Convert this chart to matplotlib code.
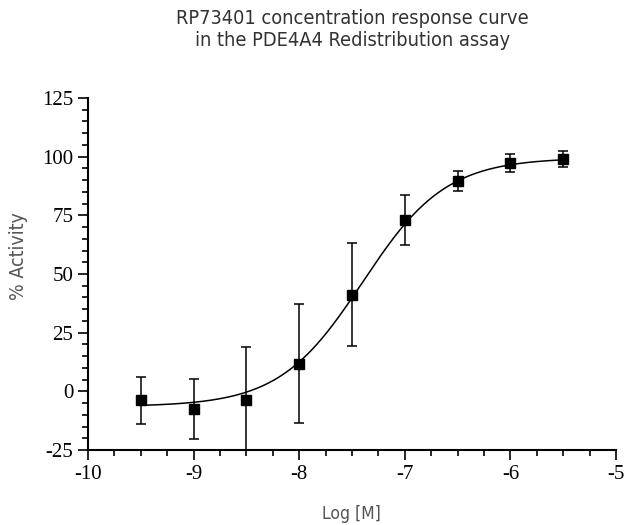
import numpy as np
import matplotlib
matplotlib.use("Agg")
import matplotlib.pyplot as plt
from matplotlib.ticker import MultipleLocator

plt.rcParams["axes.unicode_minus"] = False

# data
log_conc = [-9.5, -9.0, -8.5, -8.0, -7.5, -7.0, -6.5, -6.0, -5.5]
activity = [-3.8, -7.5, -3.8, 11.8, 41.1, 73.0, 89.5, 97.2, 99.0]
activity_err = [10.0, 12.8, 22.7, 25.3, 22.0, 10.7, 4.3, 3.8, 3.5]

# fitted 4-parameter logistic
fit_bottom = -6.5
fit_top = 99.5
fit_logec50 = -7.4
fit_hill = 1.1

sans = ["DejaVu Sans"]
serif = ["Liberation Serif", "DejaVu Serif"]

fig = plt.figure(figsize=(6.26, 5.25), dpi=100)
ax = fig.add_axes([0.1406, 0.1429, 0.8435, 0.6705])

xs = np.linspace(min(log_conc), max(log_conc), 300)
ys = fit_bottom + (fit_top - fit_bottom) / (1 + 10 ** ((fit_logec50 - xs) * fit_hill))
ax.plot(xs, ys, color="black", lw=1.1)

ax.errorbar(log_conc, activity, yerr=activity_err, fmt="s", color="black",
            ms=6.5, capsize=3.5, elinewidth=1.1, capthick=1.1)

ax.set_xlim(-10, -5)
ax.set_ylim(-25, 125)
ax.xaxis.set_major_locator(MultipleLocator(1))
ax.xaxis.set_minor_locator(MultipleLocator(0.25))
ax.yaxis.set_major_locator(MultipleLocator(25))
ax.yaxis.set_minor_locator(MultipleLocator(5))

for s in ["top", "right"]:
    ax.spines[s].set_visible(False)
for s in ["left", "bottom"]:
    ax.spines[s].set_linewidth(1.5)

ax.tick_params(which="major", length=7, width=1.2, direction="out")
ax.tick_params(which="minor", length=4, width=1.2, direction="out")
for lab in ax.get_xticklabels() + ax.get_yticklabels():
    lab.set_family(serif)
    lab.set_fontsize(15)

ax.set_xlabel("Log [M]", family=sans, stretch="condensed", fontsize=12.5,
              color="#555555")
ax.xaxis.set_label_coords(0.498, -0.156)
ax.set_ylabel("% Activity", family=sans, stretch="condensed", fontsize=14,
              color="#555555")
ax.yaxis.set_label_coords(-0.114, 0.551)

fig.text(0.563, 0.982, "RP73401 concentration response curve\nin the PDE4A4 Redistribution assay",
         ha="center", va="top", family=sans, stretch="condensed", fontsize=14.3,
         color="#333333", linespacing=1.15)

fig.savefig("out.png", dpi=100)
